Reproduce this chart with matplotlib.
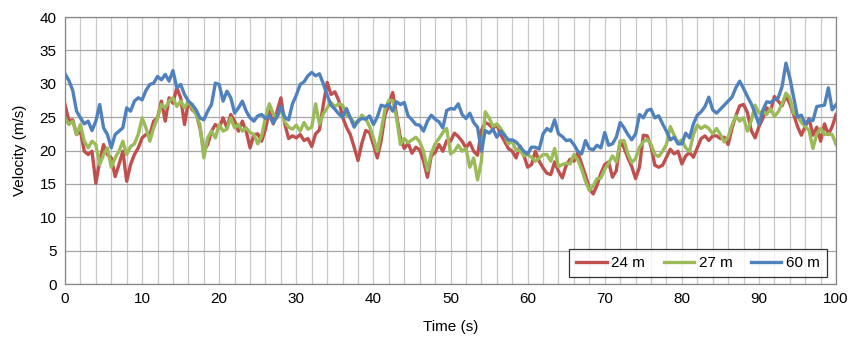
import numpy as np
import matplotlib
matplotlib.use("Agg")
from matplotlib import pyplot as plt

plt.rcParams['font.family'] = ['Liberation Sans', 'DejaVu Sans']

# sampling time (s), one reading every 0.5 s
time = [i * 0.5 for i in range(201)]

# 24 m
v24 = [26.9, 24.5, 24.6, 22.4, 22.9, 19.9, 19.4, 19.9, 15.1, 18.4,
       20.9, 19.4, 18.9, 16.1, 17.9, 19.9, 15.4, 17.9, 19.4, 20.4,
       21.9, 22.4, 22.4, 24.4, 24.9, 27.4, 24.4, 27.9, 27.1, 29.4,
       27.9, 23.9, 27.4, 26.1, 25.6, 23.4, 19.9, 20.9, 22.9, 23.9,
       23.4, 24.9, 23.4, 25.4, 24.4, 22.9, 24.4, 22.9, 20.4, 22.4,
       22.5, 21.4, 23.2, 26.0, 24.0, 25.9, 27.9, 24.0, 21.8, 22.2,
       21.9, 22.4, 21.5, 21.8, 20.6, 22.5, 23.1, 26.9, 30.2, 28.4,
       28.8, 27.5, 25.0, 23.5, 22.4, 20.5, 18.5, 21.1, 23.0, 22.7,
       20.9, 18.9, 21.5, 25.3, 26.9, 28.7, 25.3, 21.9, 20.3, 21.1,
       19.6, 20.5, 20.1, 18.4, 16.0, 19.2, 19.7, 20.9, 19.9, 21.5,
       21.4, 22.6, 22.1, 21.4, 20.4, 21.2, 19.9, 19.3, 23.0, 24.2,
       23.9, 23.3, 23.9, 22.4, 21.4, 20.3, 19.9, 18.9, 20.7, 19.3,
       17.5, 17.9, 19.9, 18.4, 17.4, 16.6, 16.4, 18.3, 16.9, 15.9,
       17.8, 18.7, 18.4, 19.7, 18.0, 16.3, 14.3, 13.5, 14.8, 16.6,
       17.9, 18.3, 16.0, 17.0, 21.4, 20.4, 18.9, 17.6, 15.8,
       17.5, 22.3, 22.2, 20.6, 17.8, 17.5, 17.8, 19.0, 20.2, 19.5, 19.9,
       18.0, 19.2, 19.7, 19.0, 20.4, 21.8, 22.2, 21.5, 22.2, 22.2,
       21.8, 22.0, 20.9, 23.3, 25.2, 26.7, 26.9, 25.7, 23.0, 21.9,
       23.6, 24.8, 26.4, 25.9, 28.1, 27.4, 26.7, 28.2, 27.0, 25.4,
       23.6, 22.3, 23.6, 24.8, 22.3, 23.5, 21.4, 24.0, 22.4, 23.6, 25.4]

# 27 m
v27 = [24.9, 23.9, 24.4, 22.4, 23.9, 21.4, 20.4, 21.4, 20.9, 17.9,
       19.4, 20.4, 17.5, 18.9, 19.9, 21.4, 19.4, 20.6, 21.0, 22.4,
       24.9, 23.4, 21.4, 23.4, 24.9, 26.9, 26.4, 27.4, 27.9, 26.6,
       27.4, 26.4, 27.4, 26.4, 25.4, 23.9, 18.9, 21.9, 22.9, 21.9,
       23.9, 22.9, 23.2, 24.9, 23.4, 23.9, 22.9, 23.4, 22.7, 22.4,
       21.0, 22.2, 25.0, 27.0, 25.5, 24.9, 26.3, 24.3, 23.5, 23.2,
       23.8, 22.9, 24.2, 23.2, 23.5, 27.0, 24.0, 25.5, 26.4, 27.2,
       26.6, 27.0, 26.8, 25.3, 24.9, 24.2, 24.2, 25.3, 24.8, 23.6,
       21.9, 19.9, 23.0, 26.2, 27.5, 27.5, 24.9, 20.9, 21.8, 21.2,
       21.6, 22.0, 21.3, 19.9, 17.0, 19.6, 21.0, 21.8, 22.7, 23.3,
       19.5, 19.9, 20.8, 19.9, 20.3, 17.5, 18.9, 15.6, 18.4, 25.8,
       24.9, 23.6, 24.0, 23.3, 22.4, 21.0, 21.4, 20.0, 20.1, 19.2,
       19.4, 19.0, 18.4, 18.9, 19.4, 19.4, 18.4, 20.3, 17.6, 17.9,
       18.1, 18.0, 19.4, 18.6, 17.2, 15.4, 14.0, 14.7, 15.8, 15.9,
       17.2, 18.1, 19.2, 18.3, 21.4, 21.5, 19.5, 18.2, 18.8,
       20.5, 21.3, 21.7, 20.9, 19.4, 19.1, 19.9, 20.9, 23.6, 22.3, 21.2,
       21.6, 20.4, 19.9, 22.4, 23.8, 23.3, 23.7, 23.3, 22.5, 23.3,
       22.4, 21.3, 22.0, 23.8, 25.2, 24.4, 24.9, 22.9, 24.5, 26.8,
       25.6, 25.9, 25.4, 26.3, 25.1, 25.8, 27.0, 28.6, 27.9, 25.6,
       25.2, 24.2, 23.6, 23.0, 20.3, 22.5, 23.3, 22.4, 22.5, 22.4, 20.9]

# 60 m
v60 = [31.5, 30.5, 29.0, 25.9, 24.9, 24.0, 24.4, 23.0, 24.4, 26.9,
       23.4, 22.4, 20.4, 22.4, 22.9, 23.4, 26.4, 25.9, 27.4, 27.9,
       27.6, 29.0, 29.9, 30.1, 31.1, 30.6, 31.4, 30.4, 32.0, 29.4,
       29.9, 28.4, 27.4, 26.9, 26.1, 24.9, 24.6, 25.9, 26.9, 30.1,
       29.9, 27.4, 28.9, 27.9, 25.6, 26.4, 27.4, 25.9, 24.9, 24.4,
       25.2, 25.4, 24.8, 25.2, 24.1, 25.1, 26.6, 25.0, 24.6, 27.0,
       28.3, 29.9, 30.3, 31.2, 31.7, 31.2, 31.5, 30.0, 28.3, 26.8,
       26.2, 25.5, 25.0, 26.3, 24.9, 23.5, 24.5, 24.8, 24.7, 25.2,
       23.9, 25.0, 26.8, 26.6, 26.9, 25.9, 27.3, 26.9, 27.2, 25.2,
       24.6, 23.9, 23.8, 22.9, 24.4, 25.3, 24.7, 24.3, 23.4, 26.0,
       26.3, 26.2, 27.0, 25.4, 24.8, 25.6, 24.2, 23.5, 19.9, 23.0,
       22.6, 23.2, 22.0, 22.9, 22.3, 21.6, 21.6, 21.3, 20.6, 19.9,
       19.5, 20.5, 20.5, 20.2, 22.5, 23.3, 22.9, 24.6, 22.5, 22.1,
       21.5, 21.6, 20.9, 19.9, 19.5, 21.5, 20.3, 20.1, 20.8, 20.4,
       22.7, 20.8, 21.0, 22.0, 24.2, 23.4, 22.4, 21.6, 22.5,
       25.4, 24.9, 26.0, 26.2, 24.9, 25.2, 24.0, 22.9, 21.6, 22.0, 21.0,
       21.0, 22.6, 21.9, 24.0, 25.3, 25.8, 26.6, 28.0, 26.1, 25.6,
       26.2, 26.8, 27.4, 28.0, 29.4, 30.4, 29.3, 28.1, 27.0, 25.6,
       23.9, 26.0, 27.3, 27.2, 27.6, 27.9, 29.6, 33.1, 30.9, 28.0,
       25.0, 25.3, 24.0, 24.6, 24.5, 26.6, 26.7, 26.8, 29.4, 26.1, 26.9]

labels = ['24 m', '27 m', '60 m']
colors = ['#C0504D', '#9BBB59', '#4F81BD']

fig = plt.figure(figsize=(8.52, 3.41), dpi=100)
ax = fig.add_axes([0.0763, 0.167, 0.905, 0.783])

for v, lab, c in zip([v24, v27, v60], labels, colors):
    ax.plot(time, v, color=c, lw=2.4, label=lab, solid_joinstyle='round')

ax.set_xlim(0, 100)
ax.set_ylim(0, 40)
ax.set_xticks(np.arange(0, 101, 10))
ax.set_xticks(np.arange(0, 101, 2), minor=True)
ax.set_yticks(np.arange(0, 41, 5))
ax.grid(True, which='major', axis='y', color='#A6A6A6', lw=0.9)
ax.grid(True, which='both', axis='x', color='#C8C8C8', lw=0.9)
ax.set_axisbelow(True)
ax.tick_params(which='both', length=0, labelsize=11, pad=6)
for s in ax.spines.values():
    s.set_color('#868686')
    s.set_linewidth(0.9)

ax.set_xlabel('Time (s)', fontsize=11, labelpad=10)
ax.set_ylabel('Velocity (m/s)', fontsize=11, labelpad=9)

leg = ax.legend(loc='lower right', bbox_to_anchor=(0.988, 0.026), ncol=3,
                fontsize=11, frameon=True, fancybox=False, borderaxespad=0,
                handlelength=2.0, handletextpad=0.3, columnspacing=1.2,
                borderpad=0.45)
leg.get_frame().set_edgecolor('black')
leg.get_frame().set_linewidth(0.9)

fig.savefig('out.png', dpi=100)
